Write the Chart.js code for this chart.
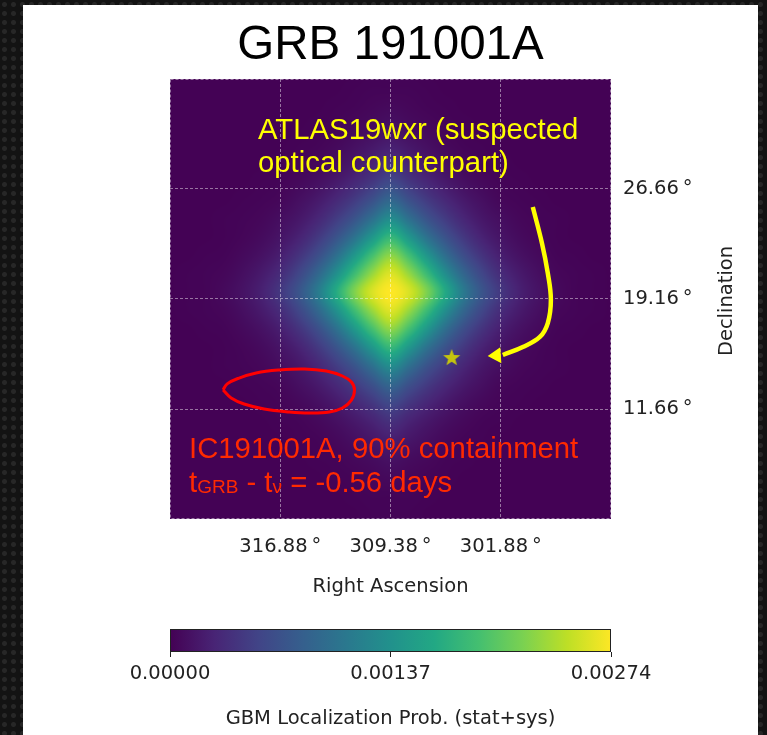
<!DOCTYPE html>
<html>
<head>
<meta charset="utf-8">
<script src="https://cdn.jsdelivr.net/npm/chart.js@4.4.1/dist/chart.umd.min.js"></script>
<style>
  body {
    margin: 0; width: 767px; height: 735px; overflow: hidden; position: relative;
    background-color: #131313;
    background-image: radial-gradient(circle, #272727 2px, transparent 3px);
    background-size: 9px 9px;
  }
  #panel { position: absolute; left: 23px; top: 5px; width: 735px; height: 730px; background: #fff; }
  #main { position: absolute; left: 0; top: 0; }
  #cbar { position: absolute; left: 0; top: 600px; }
</style>
</head>
<body>
<div id="panel"></div>
<canvas id="main" width="767" height="600"></canvas>
<canvas id="cbar" width="767" height="135"></canvas>
<script>
// GBM localization map, probability in units of 1e-5
// rows go from high Dec to low Dec, columns from high RA to low RA
const raCenters = [324.38, 323.13, 321.88, 320.63, 319.38, 318.13, 316.88, 315.63, 314.38, 313.13, 311.88, 310.63, 309.38,
  308.13, 306.88, 305.63, 304.38, 303.13, 301.88, 300.63, 299.38, 298.13, 296.88, 295.63, 294.38];
const decCenters = [34.61, 33.36, 32.11, 30.86, 29.61, 28.36, 27.11, 25.86, 24.61, 23.36, 22.11, 20.86, 19.61,
  18.36, 17.11, 15.86, 14.61, 13.36, 12.11, 10.86, 9.61, 8.36, 7.11, 5.86, 4.61];
const gbmProb = [
  [1, 1, 1, 1, 1, 1, 1, 1, 1, 1, 1, 2, 2, 2, 1, 1, 1, 1, 1, 1, 1, 1, 1, 1, 1],
  [1, 1, 1, 1, 1, 1, 1, 1, 1, 1, 2, 3, 3, 3, 2, 1, 1, 1, 1, 1, 1, 1, 1, 1, 1],
  [1, 1, 1, 1, 1, 1, 1, 1, 1, 2, 3, 5, 7, 5, 3, 2, 1, 1, 1, 1, 1, 1, 1, 1, 1],
  [1, 1, 1, 1, 1, 1, 1, 1, 2, 3, 6, 9, 13, 9, 6, 3, 2, 1, 1, 1, 1, 1, 1, 1, 1],
  [1, 1, 1, 1, 1, 1, 1, 2, 3, 6, 11, 17, 23, 17, 11, 6, 3, 2, 1, 1, 1, 1, 1, 1, 1],
  [1, 1, 1, 1, 1, 1, 2, 3, 6, 11, 18, 27, 38, 27, 18, 11, 6, 3, 2, 1, 1, 1, 1, 1, 1],
  [1, 1, 1, 1, 1, 2, 3, 6, 11, 19, 30, 44, 60, 44, 30, 19, 11, 6, 3, 2, 1, 1, 1, 1, 1],
  [1, 1, 1, 1, 2, 3, 5, 11, 19, 31, 47, 68, 91, 68, 47, 31, 19, 11, 5, 3, 2, 1, 1, 1, 1],
  [1, 1, 1, 2, 3, 5, 10, 17, 29, 47, 70, 101, 132, 101, 70, 47, 29, 17, 10, 5, 3, 2, 1, 1, 1],
  [1, 1, 1, 2, 4, 8, 15, 26, 44, 69, 102, 144, 181, 144, 102, 69, 44, 26, 15, 8, 4, 2, 1, 1, 1],
  [1, 1, 2, 3, 7, 13, 23, 40, 64, 98, 143, 191, 227, 191, 143, 98, 64, 40, 23, 13, 7, 3, 2, 1, 1],
  [1, 2, 3, 5, 11, 20, 34, 57, 89, 133, 185, 231, 260, 231, 185, 133, 89, 57, 34, 20, 11, 5, 3, 2, 1],
  [1, 2, 3, 7, 14, 25, 44, 71, 110, 164, 219, 258, 274, 258, 219, 164, 110, 71, 44, 25, 14, 7, 3, 2, 1],
  [1, 2, 3, 5, 11, 20, 34, 57, 89, 133, 185, 231, 260, 231, 185, 133, 89, 57, 34, 20, 11, 5, 3, 2, 1],
  [1, 1, 2, 3, 7, 13, 23, 40, 64, 98, 143, 191, 227, 191, 143, 98, 64, 40, 23, 13, 7, 3, 2, 1, 1],
  [1, 1, 1, 2, 4, 8, 15, 26, 44, 69, 102, 144, 181, 144, 102, 69, 44, 26, 15, 8, 4, 2, 1, 1, 1],
  [1, 1, 1, 2, 3, 5, 10, 17, 29, 47, 70, 101, 132, 101, 70, 47, 29, 17, 10, 5, 3, 2, 1, 1, 1],
  [1, 1, 1, 1, 2, 3, 5, 11, 19, 31, 47, 68, 91, 68, 47, 31, 19, 11, 5, 3, 2, 1, 1, 1, 1],
  [1, 1, 1, 1, 1, 2, 3, 6, 11, 19, 30, 44, 60, 44, 30, 19, 11, 6, 3, 2, 1, 1, 1, 1, 1],
  [1, 1, 1, 1, 1, 1, 2, 3, 6, 11, 18, 27, 38, 27, 18, 11, 6, 3, 2, 1, 1, 1, 1, 1, 1],
  [1, 1, 1, 1, 1, 1, 1, 2, 3, 6, 11, 17, 23, 17, 11, 6, 3, 2, 1, 1, 1, 1, 1, 1, 1],
  [1, 1, 1, 1, 1, 1, 1, 1, 2, 3, 6, 9, 13, 9, 6, 3, 2, 1, 1, 1, 1, 1, 1, 1, 1],
  [1, 1, 1, 1, 1, 1, 1, 1, 1, 2, 3, 5, 7, 5, 3, 2, 1, 1, 1, 1, 1, 1, 1, 1, 1],
  [1, 1, 1, 1, 1, 1, 1, 1, 1, 1, 2, 3, 3, 3, 2, 1, 1, 1, 1, 1, 1, 1, 1, 1, 1],
  [1, 1, 1, 1, 1, 1, 1, 1, 1, 1, 1, 2, 2, 2, 1, 1, 1, 1, 1, 1, 1, 1, 1, 1, 1]
];
const probMax = 274; // 0.00274

const raTicks = [316.88, 309.38, 301.88];
const decTicks = [26.66, 19.16, 11.66];
const cbarTicks = [0, 0.00137, 0.00274];

// IceCube 90% containment contour
const icRa = [320.77, 320.49, 319.68, 318.52, 316.95, 315.24, 313.74, 312.65, 312.04, 311.83, 312.04, 312.65, 313.54, 314.90, 316.27, 317.97, 319.34, 320.22, 320.77];
const icDec = [12.96, 13.37, 13.77, 14.12, 14.32, 14.39, 14.25, 13.91, 13.50, 12.96, 12.27, 11.73, 11.46, 11.39, 11.46, 11.66, 12.00, 12.41, 12.96];

// ATLAS19wxr position
const atlasRa = [305.22];
const atlasDec = [15.14];

// hand drawn arrow pointing at ATLAS19wxr
const arrowRa = [299.70, 299.08, 298.68, 298.47, 298.68, 299.22, 300.38, 301.74];
const arrowDec = [25.43, 22.98, 20.93, 19.09, 17.52, 16.57, 15.89, 15.34];
const arrowTip = [302.77, 15.27];

const VIRIDIS = ['#440154', '#482475', '#414487', '#355f8d', '#2a788e', '#21918c', '#22a884', '#44bf70', '#7ad151', '#bddf26', '#fde725'];

const axisFont = { family: 'DejaVu Sans', size: 19.5 };
const axisColor = '#222';
const annFont = '"Liberation Sans", Arial, sans-serif';

const VIR_RGB = VIRIDIS.map(h => [parseInt(h.slice(1, 3), 16), parseInt(h.slice(3, 5), 16), parseInt(h.slice(5, 7), 16)]);

function viridis(t) {
  t = Math.max(0, Math.min(1, t));
  const p = t * (VIR_RGB.length - 1);
  const i = Math.min(Math.floor(p), VIR_RGB.length - 2);
  const f = p - i;
  const a = VIR_RGB[i], b = VIR_RGB[i + 1];
  return [a[0] + (b[0] - a[0]) * f, a[1] + (b[1] - a[1]) * f, a[2] + (b[2] - a[2]) * f];
}

function starImage(r, color) {
  const c = document.createElement('canvas');
  c.width = c.height = 2 * r + 2;
  const g = c.getContext('2d');
  g.fillStyle = color;
  g.beginPath();
  for (let i = 0; i < 10; i++) {
    const a = -Math.PI / 2 + i * Math.PI / 5;
    const rr = i % 2 ? r * 0.42 : r;
    g.lineTo(r + 1 + rr * Math.cos(a), r + 1 + rr * Math.sin(a));
  }
  g.closePath();
  g.fill();
  return c;
}

// cubic (Catmull-Rom) lookup helpers for smooth image display
function cubicIndex(centers, v) {
  const n = centers.length;
  let f = (centers[0] - v) / (centers[0] - centers[1]);
  f = Math.max(0, Math.min(n - 1, f));
  const i = Math.min(Math.floor(f), n - 2);
  const cl = k => Math.max(0, Math.min(n - 1, k));
  return { idx: [cl(i - 1), i, i + 1, cl(i + 2)], t: f - i };
}

function cr(p0, p1, p2, p3, t) {
  return p1 + 0.5 * t * (p2 - p0 + t * (2 * p0 - 5 * p1 + 4 * p2 - p3 + t * (3 * (p1 - p2) + p3 - p0)));
}

const mapPlugin = {
  id: 'mapPlugin',
  beforeDraw(chart) {
    const { ctx, chartArea: a, scales: { x, y } } = chart;
    const left = Math.round(a.left), top = Math.round(a.top);
    const w = Math.round(a.right) - left, h = Math.round(a.bottom) - top;
    const img = ctx.createImageData(w, h);
    const cols = [];
    for (let px = 0; px < w; px++) cols.push(cubicIndex(raCenters, x.getValueForPixel(left + px + 0.5)));
    for (let py = 0; py < h; py++) {
      const rw = cubicIndex(decCenters, y.getValueForPixel(top + py + 0.5));
      const rows = rw.idx.map(k => gbmProb[k]);
      for (let px = 0; px < w; px++) {
        const { idx, t } = cols[px];
        const q = rows.map(r => cr(r[idx[0]], r[idx[1]], r[idx[2]], r[idx[3]], t));
        const v = Math.max(0, cr(q[0], q[1], q[2], q[3], rw.t));
        const c = viridis(v / probMax);
        const o = (py * w + px) * 4;
        img.data[o] = c[0]; img.data[o + 1] = c[1]; img.data[o + 2] = c[2]; img.data[o + 3] = 255;
      }
    }
    ctx.putImageData(img, left, top);
    // dashed frame like the graticule
    ctx.save();
    ctx.strokeStyle = 'rgba(255,255,255,0.45)';
    ctx.lineWidth = 1;
    ctx.setLineDash([3, 2]);
    ctx.strokeRect(left + 0.5, top + 0.5, w - 1, h - 1);
    ctx.restore();
  },
  afterDatasetsDraw(chart) {
    const { ctx, scales: { x, y } } = chart;
    // arrow head
    const bx = x.getPixelForValue(arrowRa[arrowRa.length - 1]);
    const by = y.getPixelForValue(arrowDec[arrowDec.length - 1]);
    const tx = x.getPixelForValue(arrowTip[0]);
    const ty = y.getPixelForValue(arrowTip[1]);
    const len = Math.hypot(tx - bx, ty - by);
    const ux = (tx - bx) / len, uy = (ty - by) / len;
    const hw = 8;
    ctx.save();
    ctx.fillStyle = '#ffff00';
    ctx.beginPath();
    ctx.moveTo(tx, ty);
    ctx.lineTo(bx - uy * hw + ux * 2, by + ux * hw + uy * 2);
    ctx.lineTo(bx + uy * hw + ux * 2, by - ux * hw + uy * 2);
    ctx.closePath();
    ctx.fill();

    // annotation texts
    ctx.textAlign = 'left';
    ctx.textBaseline = 'alphabetic';
    ctx.font = '29.3px ' + annFont;
    ctx.fillText('ATLAS19wxr (suspected', 258, 139);
    ctx.fillText('optical counterpart)', 258, 172);

    ctx.fillStyle = '#ff2a00';
    ctx.fillText('IC191001A, 90% containment', 189, 458);
    let px = 189;
    const yb = 492;
    const big = '29.3px ' + annFont, small = '19px ' + annFont;
    [['t', big, 0], ['GRB', small, 1], [' - t', big, 0], ['\u03bd', small, 1], [' = -0.56 days', big, 0]].forEach(([s, f, dy]) => {
      ctx.font = f;
      ctx.fillText(s, px, yb + dy);
      px += ctx.measureText(s).width;
    });
    ctx.restore();
  },
  afterDraw(chart) {
    const { ctx } = chart;
    ctx.save();
    ctx.fillStyle = '#000';
    ctx.font = '47.5px ' + annFont;
    ctx.textAlign = 'center';
    ctx.textBaseline = 'alphabetic';
    ctx.fillText('GRB 191001A', 390.5, 59);

    ctx.translate(727, 301);
    ctx.rotate(-Math.PI / 2);
    ctx.fillStyle = axisColor;
    ctx.font = axisFont.size + 'px "DejaVu Sans"';
    ctx.textBaseline = 'middle';
    ctx.fillText('Declination', 0, 0);
    ctx.restore();
  }
};

const gridStyle = { color: 'rgba(255,255,255,0.45)', lineWidth: 1, drawTicks: false };

new Chart(document.getElementById('main'), {
  type: 'scatter',
  data: {
    datasets: [
      {
        label: 'IC191001A 90%',
        data: icRa.map((r, i) => ({ x: r, y: icDec[i] })),
        showLine: true,
        borderColor: '#ff0000',
        borderWidth: 3,
        tension: 0.4,
        pointRadius: 0,
        fill: false
      },
      {
        label: 'arrow',
        data: arrowRa.map((r, i) => ({ x: r, y: arrowDec[i] })),
        showLine: true,
        borderColor: '#ffff00',
        borderWidth: 4.5,
        tension: 0.4,
        pointRadius: 0,
        fill: false
      },
      {
        label: 'ATLAS19wxr',
        data: atlasRa.map((r, i) => ({ x: r, y: atlasDec[i] })),
        pointStyle: starImage(9, '#c4c40e'),
        pointRadius: 9
      }
    ]
  },
  options: {
    responsive: false,
    animation: false,
    devicePixelRatio: 1,
    events: [],
    layout: { padding: { left: 170, top: 79, right: 36, bottom: 0 } },
    plugins: { legend: { display: false }, tooltip: { enabled: false } },
    scales: {
      x: {
        type: 'linear',
        reverse: true,
        min: 294.38,
        max: 324.38,
        position: 'bottom',
        afterBuildTicks: s => { s.ticks = raTicks.map(v => ({ value: v })); },
        afterFit: s => { s.height = 81; },
        grid: gridStyle,
        border: { display: false, dash: [3, 2] },
        ticks: {
          padding: 16,
          color: axisColor,
          font: axisFont,
          maxRotation: 0,
          autoSkip: false,
          callback: v => v.toFixed(2) + '\u2009°'
        },
        title: {
          display: true,
          text: 'Right Ascension',
          color: axisColor,
          font: axisFont,
          padding: { top: 0, bottom: 1 }
        }
      },
      y: {
        type: 'linear',
        min: 4.16,
        max: 34.16,
        position: 'right',
        afterBuildTicks: s => { s.ticks = decTicks.map(v => ({ value: v })); },
        afterFit: s => { s.width = 120; },
        grid: gridStyle,
        border: { display: false, dash: [3, 2] },
        ticks: {
          padding: 12,
          color: axisColor,
          font: axisFont,
          autoSkip: false,
          callback: v => v.toFixed(2) + '\u2009°'
        }
      }
    }
  },
  plugins: [mapPlugin]
});

const cbarPlugin = {
  id: 'cbarPlugin',
  beforeDraw(chart) {
    const { ctx, chartArea: a } = chart;
    const grad = ctx.createLinearGradient(a.left, 0, a.right, 0);
    VIRIDIS.forEach((c, i) => grad.addColorStop(i / (VIRIDIS.length - 1), c));
    ctx.save();
    ctx.fillStyle = grad;
    ctx.fillRect(a.left, a.top, a.width, a.height);
    ctx.restore();
  },
  afterDraw(chart) {
    const { ctx, chartArea: a } = chart;
    ctx.save();
    ctx.strokeStyle = '#222';
    ctx.lineWidth = 1;
    ctx.strokeRect(a.left + 0.5, a.top + 0.5, a.width - 1, a.height - 1);
    ctx.restore();
  }
};

new Chart(document.getElementById('cbar'), {
  type: 'scatter',
  data: { datasets: [] },
  options: {
    responsive: false,
    animation: false,
    devicePixelRatio: 1,
    events: [],
    layout: { padding: { left: 170, top: 29, right: 156, bottom: 0 } },
    plugins: { legend: { display: false }, tooltip: { enabled: false } },
    scales: {
      x: {
        type: 'linear',
        min: 0,
        max: 0.00274,
        afterBuildTicks: s => { s.ticks = cbarTicks.map(v => ({ value: v })); },
        afterFit: s => { s.height = 83; },
        grid: { drawOnChartArea: false, drawTicks: true, tickLength: 5, tickColor: '#222', tickWidth: 1 },
        border: { display: false },
        ticks: {
          padding: 5,
          color: axisColor,
          font: axisFont,
          maxRotation: 0,
          autoSkip: false,
          callback: v => v.toFixed(5)
        },
        title: {
          display: true,
          text: 'GBM Localization Prob. (stat+sys)',
          color: axisColor,
          font: axisFont,
          padding: { top: 0, bottom: 4 }
        }
      },
      y: { display: false, min: 0, max: 1 }
    }
  },
  plugins: [cbarPlugin]
});
</script>
</body>
</html>
